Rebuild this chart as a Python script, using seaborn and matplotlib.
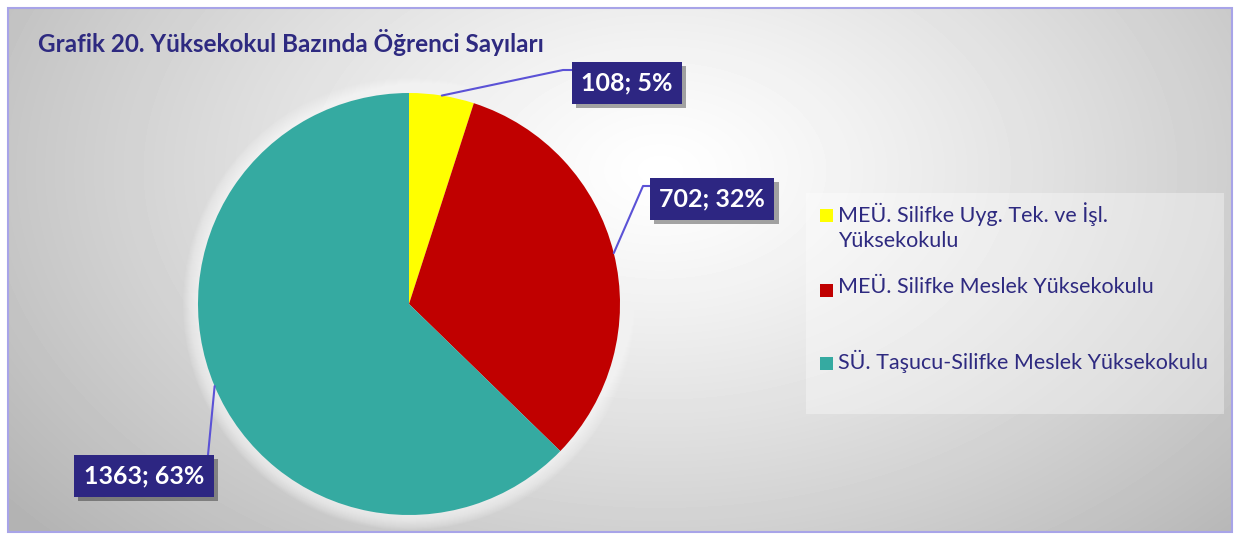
import matplotlib
matplotlib.use("Agg")
import matplotlib.pyplot as plt
import matplotlib.patheffects as pe
from matplotlib.patches import Rectangle, Circle
import numpy as np
import seaborn as sns

# data
TITLE = "Grafik 20. Yüksekokul Bazında Öğrenci Sayıları"
schools = [
    "MEÜ. Silifke Uyg. Tek. ve İşl.\nYüksekokulu",
    "MEÜ. Silifke Meslek Yüksekokulu",
    "SÜ. Taşucu-Silifke Meslek Yüksekokulu",
]
students = [108, 702, 1363]
colors = ["#FFFF00", "#C00000", "#35AAA1"]

NAVY = "#2E2A80"
BOX = "#2D2682"
LEADER = "#5B52D6"

sns.set_theme(style="white")
plt.rcParams["font.family"] = ["Lato", "DejaVu Sans"]

fig = plt.figure(figsize=(12.4, 5.4), dpi=100)
fig.patch.set_facecolor("white")
ax = fig.add_axes([0, 0, 1, 1])

# soft grey radial background inside the chart frame
yy, xx = np.mgrid[0:524, 0:1224]
d = np.sqrt(((xx + 8 - 660) / 720) ** 2 + ((yy + 8 - 170) / 470) ** 2)
grey = 1 - 0.25 * np.clip(d, 0, 1.15) ** 1.2
ax.imshow(grey, cmap="gray", vmin=0, vmax=1, extent=(8, 1232, 532, 8),
          zorder=0, interpolation="bilinear")

# pie (y axis is inverted, so counterclock=True runs clockwise on screen)
center = (409, 304)
radius = 211
for k in range(1, 16):
    ax.add_patch(Circle(center, radius + k, color="white", alpha=0.07, lw=0, zorder=1))
wedges, _ = ax.pie(students, colors=colors, startangle=-90, counterclock=True,
                   center=center, radius=radius,
                   wedgeprops=dict(linewidth=0, zorder=3))

# data labels with leader lines
total = sum(students)
label_pos = [(627, 83), (712, 199), (144, 476)]
elbows = [(563, 70), (643, 186), (208, 455)]
ends = [(574, 70), (654, 186), (208, 455)]
for w, v, lp, el, en in zip(wedges, students, label_pos, elbows, ends):
    mid = np.deg2rad((w.theta1 + w.theta2) / 2)
    sx = center[0] + radius * np.cos(mid)
    sy = center[1] + radius * np.sin(mid)
    ax.plot([sx, el[0], en[0]], [sy, el[1], en[1]], color=LEADER, lw=1.5, zorder=4)
    t = ax.text(lp[0], lp[1], f"{v}; {round(100 * v / total)}%", ha="center", va="center",
                fontsize=18, fontweight="bold", color="white", zorder=6,
                bbox=dict(boxstyle="square,pad=0.38", fc=BOX, ec="none"))
    t.get_bbox_patch().set_path_effects(
        [pe.withSimplePatchShadow(offset=(3, -3), shadow_rgbFace="black", alpha=0.35), pe.Normal()])

# title
ax.text(38, 43, TITLE, ha="left", va="center", fontsize=17.5, fontweight="bold", color=NAVY, zorder=6)

# legend
ax.add_patch(Rectangle((806, 193), 418, 221, fc="white", alpha=0.35, ec="none", zorder=2))
legend_y = [215, 290, 363]
for name, c, y in zip(schools, colors, legend_y):
    ax.add_patch(Rectangle((820, y - 6.5), 13, 13, fc=c, ec="none", zorder=5))
    ax.text(838, y - 13, name, ha="left", va="top", fontsize=15.5, color=NAVY,
            linespacing=1.35, zorder=6)

# chart frame
ax.add_patch(Rectangle((8, 8), 1224, 524, fill=False, ec="#A8A4E8", lw=1.5, zorder=10))

ax.set_xlim(0, 1240)
ax.set_ylim(540, 0)
ax.set_aspect("auto")
ax.axis("off")

fig.savefig("out.png", dpi=100)
